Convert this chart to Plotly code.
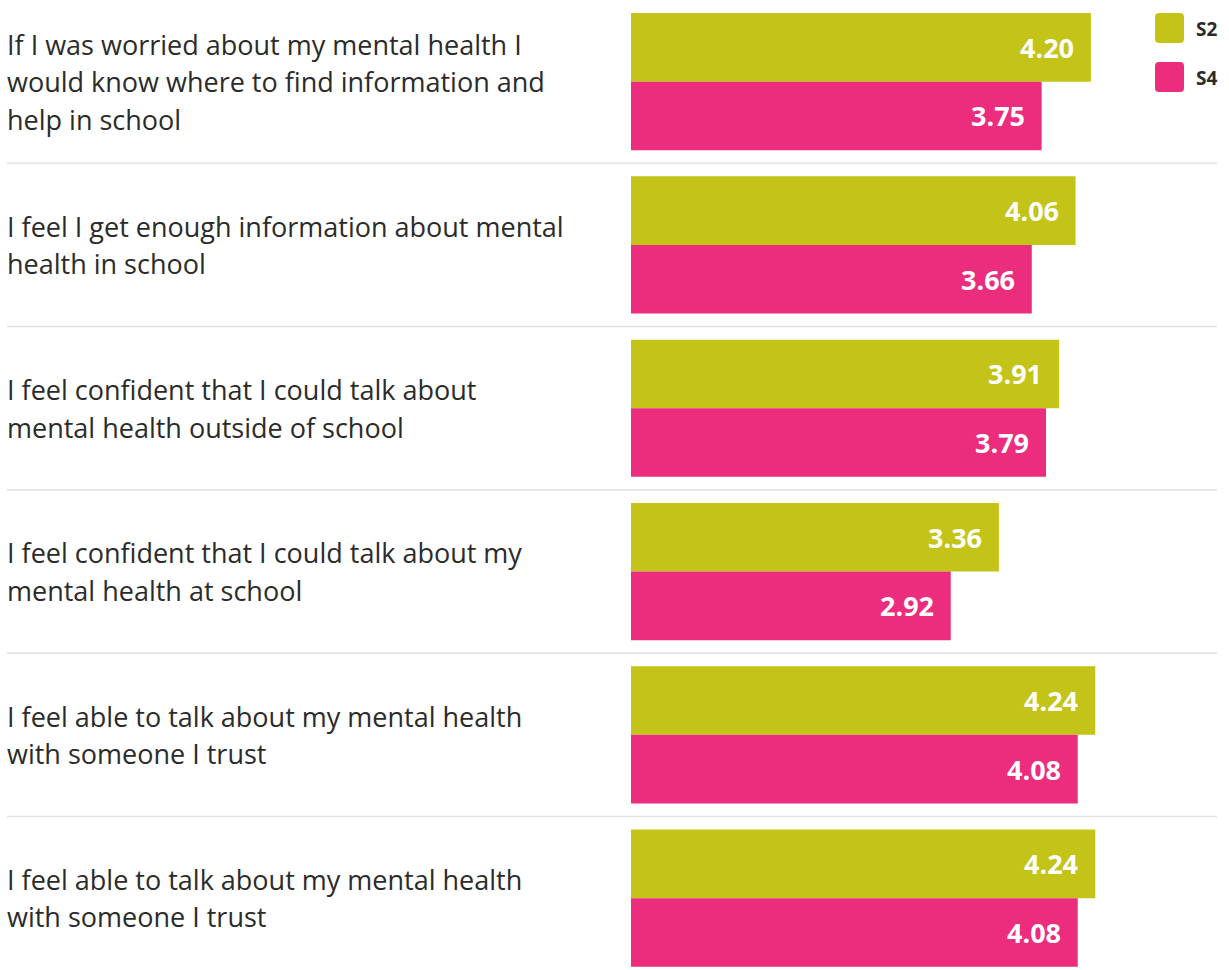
import plotly.graph_objects as go

# ---- data ----
statements = [
    ["If I was worried about my mental health I", "would know where to find information and", "help in school"],
    ["I feel I get enough information about mental", "health in school"],
    ["I feel confident that I could talk about", "mental health outside of school"],
    ["I feel confident that I could talk about my", "mental health at school"],
    ["I feel able to talk about my mental health", "with someone I trust"],
    ["I feel able to talk about my mental health", "with someone I trust"],
]
s2_values = [4.20, 4.06, 3.91, 3.36, 4.24, 4.24]
s4_values = [3.75, 3.66, 3.79, 2.92, 4.08, 4.08]
series_names = ["S2", "S4"]
series_colors = ["#c3c318", "#ec2c7d"]

# ---- layout constants ----
W, H = 1229, 970
ML = 631
PX_PER_UNIT = 109.5
GROUP_PX = 163.3
FONT = "Open Sans"
TEXT_COLOR = "#2b2b2b"

plot_w = W - ML
x_max = plot_w / PX_PER_UNIT
y_bottom = -0.5 + H / GROUP_PX

idx = list(range(len(statements)))

def px_x(X):
    return (X - ML) / plot_w

def px_y(Y):
    return 1 - Y / H

fig = go.Figure()
for name, vals, col in zip(series_names, [s2_values, s4_values], series_colors):
    fig.add_trace(go.Bar(
        y=idx, x=vals, orientation="h", name=name,
        marker=dict(color=col, line=dict(width=0)),
        hoverinfo="skip", showlegend=False,
    ))

annotations = []
shapes = []
bar_w = (1 - 0.16) / 2
for i in idx:
    # wrapped statement lines
    lines = statements[i]
    n = len(lines)
    line_h = 37.5
    for k, line in enumerate(lines):
        annotations.append(dict(
            x=px_x(5), xref="paper", y=i, yref="y",
            yshift=-((k - (n - 1) / 2) * line_h),
            text=line, showarrow=False, xanchor="left", yanchor="middle",
            font=dict(family=FONT, size=27, color=TEXT_COLOR),
        ))
    # value labels
    for s, vals in enumerate([s2_values, s4_values]):
        yc = i - bar_w / 2 if s == 0 else i + bar_w / 2
        annotations.append(dict(
            x=vals[i], xref="x", y=yc, yref="y", xshift=-15,
            text=f"<b>{vals[i]:.2f}</b>", showarrow=False,
            xanchor="right", yanchor="middle",
            font=dict(family=FONT, size=27, color="white"),
        ))
    # separators
    if i < len(idx) - 1:
        shapes.append(dict(
            type="line", xref="paper", yref="y",
            x0=px_x(7), x1=px_x(1217), y0=i + 0.5, y1=i + 0.5,
            line=dict(color="#e3e3e3", width=1.5),
        ))

# custom legend
def rounded_rect(x0, y0, x1, y1, r):
    X0, X1 = px_x(x0), px_x(x1)
    Y0, Y1 = px_y(y0), px_y(y1)
    rx = r / plot_w
    ry = r / H
    return (f"M {X0+rx},{Y0} L {X1-rx},{Y0} Q {X1},{Y0} {X1},{Y0-ry} "
            f"L {X1},{Y1+ry} Q {X1},{Y1} {X1-rx},{Y1} "
            f"L {X0+rx},{Y1} Q {X0},{Y1} {X0},{Y1+ry} "
            f"L {X0},{Y0-ry} Q {X0},{Y0} {X0+rx},{Y0} Z")

for s, (name, col) in enumerate(zip(series_names, series_colors)):
    top = 13 + s * 49
    shapes.append(dict(
        type="path", xref="paper", yref="paper",
        path=rounded_rect(1155, top, 1184, top + 30, 4),
        fillcolor=col, line=dict(width=0),
    ))
    annotations.append(dict(
        x=px_x(1194), xref="paper", y=px_y(top + 16), yref="paper",
        text=f"<b>{name}</b>", showarrow=False, xanchor="left", yanchor="middle",
        font=dict(family=FONT, size=19, color=TEXT_COLOR),
    ))

fig.update_layout(
    width=W, height=H,
    margin=dict(l=ML, r=0, t=0, b=0, pad=0),
    paper_bgcolor="white", plot_bgcolor="white",
    barmode="group", bargap=0.16, bargroupgap=0,
    xaxis=dict(range=[0, x_max], visible=False, fixedrange=True),
    yaxis=dict(range=[y_bottom, -0.5], visible=False, fixedrange=True),
    annotations=annotations, shapes=shapes,
    showlegend=False,
)

fig.write_html("out.html", config={"displayModeBar": False})
